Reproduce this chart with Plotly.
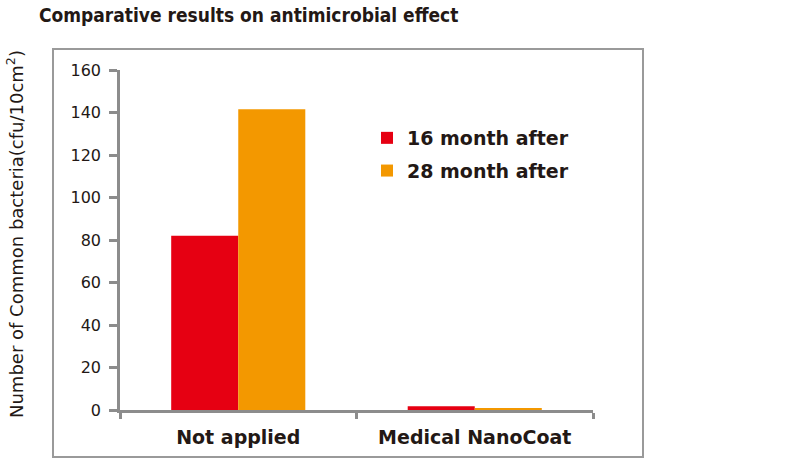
import plotly.graph_objects as go

categories = ["Not applied", "Medical NanoCoat"]
series_names = ["16 month after", "28 month after"]
values_16 = [82, 1.8]
values_28 = [141.5, 0.9]
colors = ["#e60012", "#f39800"]
y_ticks = [0, 20, 40, 60, 80, 100, 120, 140, 160]

W, H = 793, 465
L, R, T, B = 120, 200, 70, 55
pw, ph = W - L - R, H - T - B

def px_x(p):
    return (p - L) / pw

def px_y(p):
    return (H - B - p) / ph

fig = go.Figure()
for name, vals, col in zip(series_names, [values_16, values_28], colors):
    fig.add_trace(go.Bar(
        x=categories, y=vals, name=name, marker=dict(color=col, line=dict(width=0)),
        legendgroup=name,
    ))

axis_col = "#8c8c8c"
fig.update_layout(
    width=W, height=H,
    margin=dict(l=L, r=R, t=T, b=B),
    paper_bgcolor="white", plot_bgcolor="white",
    barmode="group", bargap=0.433, bargroupgap=0,
    title=dict(
        text="Comparative results on antimicrobial effect",
        x=39 / W, xanchor="left", xref="container",
        y=1 - 15 / H, yanchor="middle", yref="container",
        font=dict(family="Liberation Sans Narrow, DejaVu Sans Condensed, Arial Narrow, sans-serif",
                  size=19, color="#231815", weight="bold"),
    ),
    legend=dict(
        x=px_x(367), xanchor="left", y=px_y(119), yanchor="top",
        font=dict(family="DejaVu Sans", size=19, color="#231815", weight="bold"),
        bgcolor="rgba(0,0,0,0)", traceorder="grouped", tracegroupgap=5,
    ),
    xaxis=dict(
        showline=True, linecolor=axis_col, linewidth=2.5,
        ticks="outside", ticklen=6, tickwidth=2.5, tickcolor=axis_col,
        tickson="boundaries", showgrid=False, ticklabelstandoff=8,
        tickfont=dict(family="DejaVu Sans", size=19, color="#231815", weight="bold"),
    ),
    yaxis=dict(
        range=[0, 160], tickvals=y_ticks, showline=True, linecolor=axis_col, linewidth=2.5,
        ticks="outside", ticklen=8, tickwidth=2.5, tickcolor=axis_col, showgrid=False,
        zeroline=False, ticklabelstandoff=5,
        tickfont=dict(family="DejaVu Sans", size=16, color="#231815"),
    ),
    annotations=[dict(
        text="Number of Common bacteria(cfu/10cm<sup>2</sup>)",
        xref="paper", yref="paper", x=px_x(15), y=px_y(234),
        xanchor="center", yanchor="middle", textangle=-90, showarrow=False,
        font=dict(family="DejaVu Sans", size=18, color="#231815"),
    )],
    shapes=[dict(
        type="rect", xref="paper", yref="paper",
        x0=px_x(53), x1=px_x(643), y0=px_y(457), y1=px_y(49),
        line=dict(color="#9a9a9a", width=2), layer="below",
    )],
)

fig.write_html("out.html")
